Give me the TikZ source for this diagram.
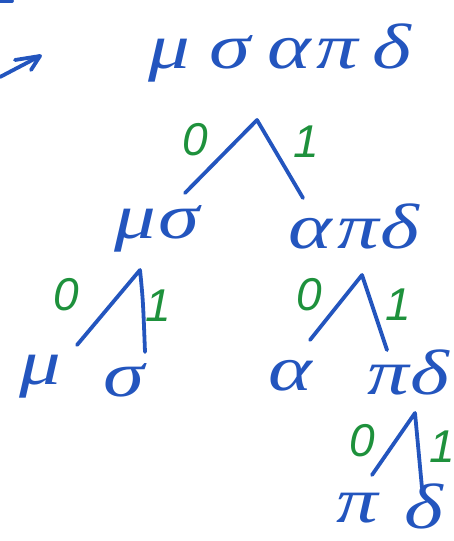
\documentclass[tikz,border=0pt]{standalone}
\usepackage{fontspec}
\setmainfont{Liberation Serif}
\newfontfamily\bitfont{Liberation Sans}
\definecolor{pen}{RGB}{35,85,190}
\definecolor{gpen}{RGB}{30,145,60}
\tikzset{
  sym/.style={text=pen, inner sep=0pt, xscale=1.3, font=\fontsize{64}{66}\selectfont\itshape},
  bit/.style={text=gpen, inner sep=0pt, font=\fontsize{46}{48}\selectfont\bitfont\itshape},
  branch/.style={draw=pen, line width=3.8pt, line cap=round, line join=round},
}
\begin{document}
\begin{tikzpicture}[x=1pt,y=-1pt]
\useasboundingbox (0,0) rectangle (454,541);
% arrow and corner mark
\coordinate (a0) at (0,77);
\coordinate (a1) at (40,56);
\coordinate (b1) at (15,60);
\coordinate (b2) at (31,70);
\draw[branch] (a0) -- (a1);
\draw[branch] (b1) -- (a1) -- (b2);
\coordinate (c0) at (0,1);
\coordinate (c1) at (12,1);
\draw[branch] (c0) -- (c1);
% labels
\node[sym] (root) at (280,53) {μ\hspace{15pt}σ\hspace{13pt}α\hspace{4pt}π\hspace{11pt}δ};
\node[sym] (ms) at (157,229) {μ\hspace{2pt}σ};
\node[sym] (apd) at (354,226) {α\hspace{4pt}π\hspace{1pt}δ};
\node[sym] (mu) at (40,377) {μ};
\node[sym] (sig) at (124,380) {σ};
\node[sym] (alp) at (290,376) {α};
\node[sym] (pd) at (408,372) {π\hspace{1pt}δ};
\node[sym] (pi) at (357,508) {π};
\node[sym] (del) at (424,506) {δ};
% bits
\node[bit] (z1) at (195,140) {0};
\node[bit] (o1) at (306,142) {1};
\node[bit] (z2) at (66,295) {0};
\node[bit] (o2) at (158,306) {1};
\node[bit] (z3) at (309,295) {0};
\node[bit] (o3) at (398,305) {1};
\node[bit] (z4) at (362,441) {0};
\node[bit] (o4) at (442,447) {1};
% branches
\coordinate (t1) at (257,120);
\coordinate (l1) at (185,193);
\coordinate (r1) at (303,198);
\draw[branch] (l1) -- (t1) -- (r1);
\coordinate (t2) at (140,270);
\coordinate (l2) at (77,345);
\coordinate (r2) at (145,352);
\draw[branch] (l2) -- (t2) .. controls (143,300) .. (r2);
\coordinate (t3) at (362,275);
\coordinate (l3) at (310,340);
\coordinate (r3) at (387,350);
\draw[branch] (l3) -- (t3) -- (r3);
\coordinate (t4) at (415,413);
\coordinate (l4) at (372,475);
\coordinate (r4) at (422,488);
\draw[branch] (l4) -- (t4) -- (r4);
\end{tikzpicture}
\end{document}
